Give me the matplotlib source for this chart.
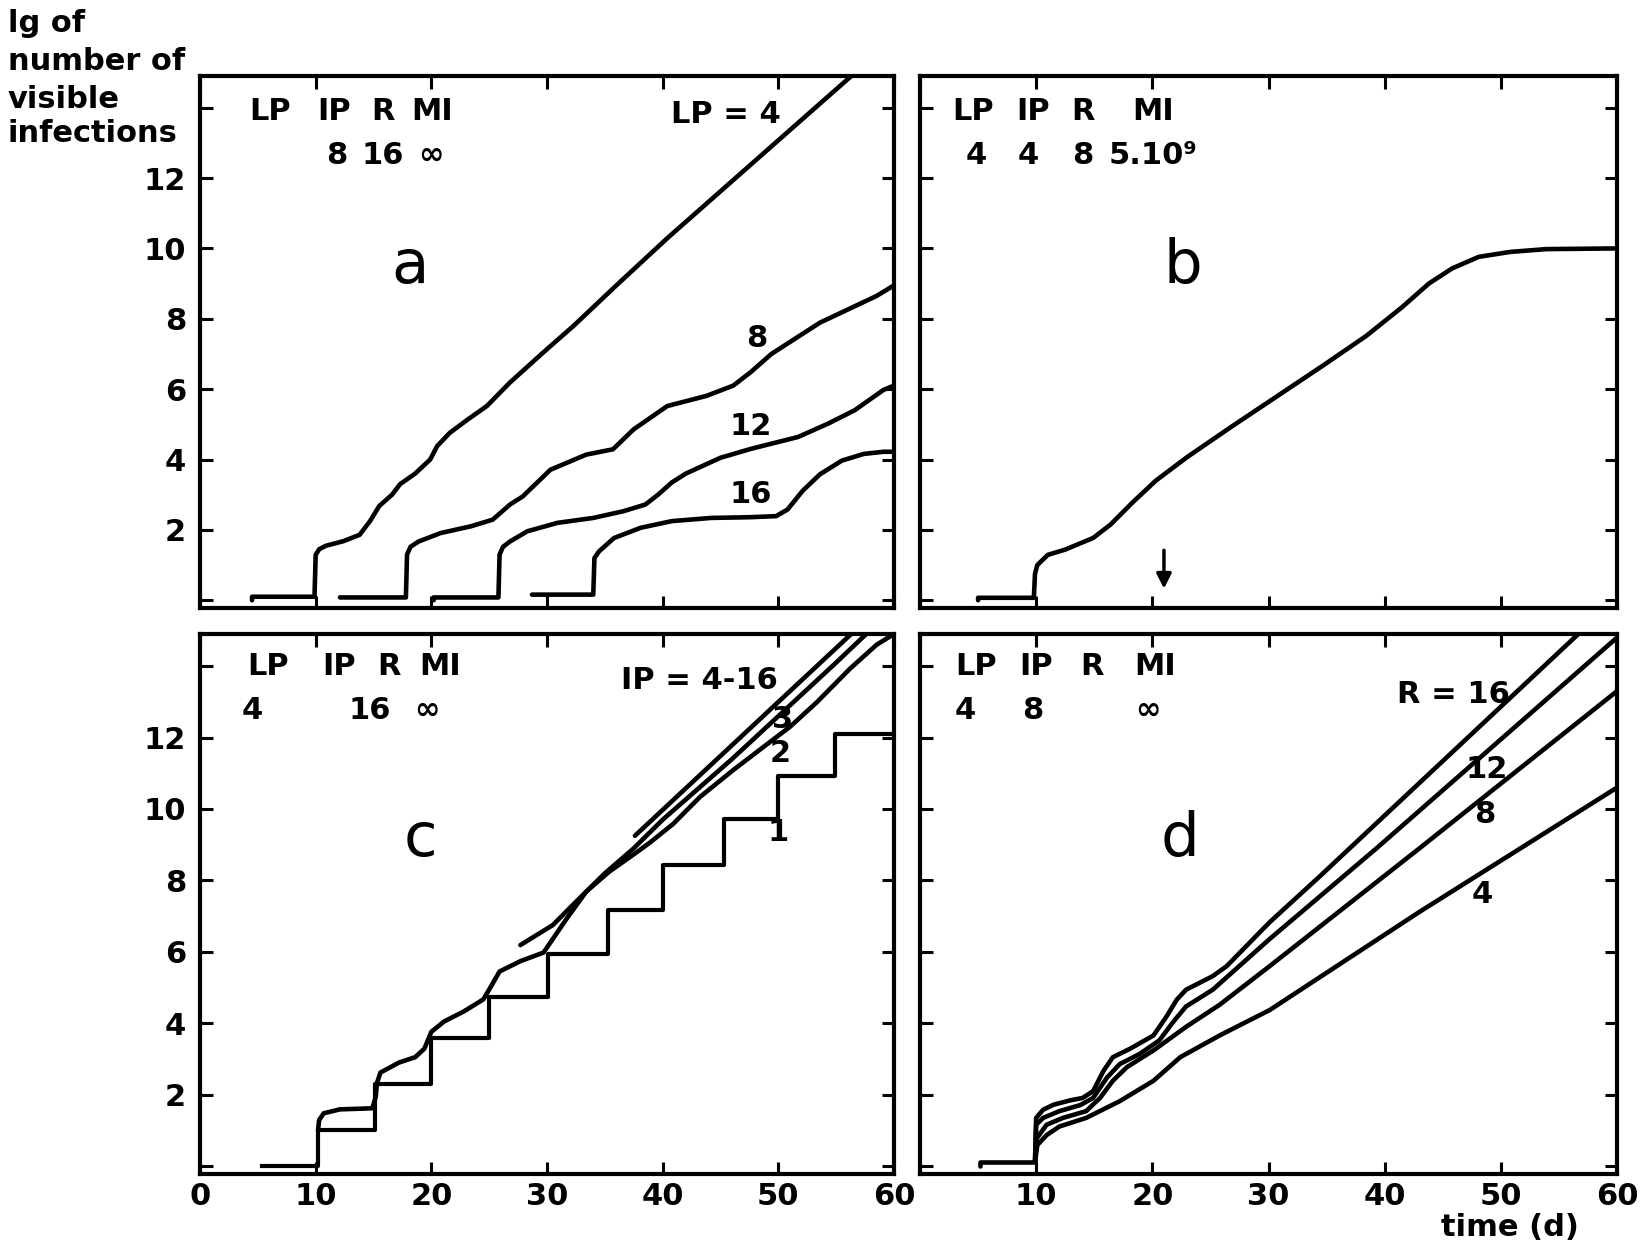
import matplotlib
matplotlib.use("Agg")
import matplotlib.pyplot as plt

# ---- panel a : latent period LP = 4, 8, 12, 16 ----
a_lp4_x = [4.5, 4.5, 9.9, 10.0, 10.3, 10.9, 12.4, 13.8, 14.7, 15.5, 16.6, 17.3, 18.6, 19.9, 20.5, 21.6,
           23.2, 24.8, 26.8, 29.7, 32.3, 36.0, 40.4, 47.3, 57.0]
a_lp4_y = [0.0, 0.1, 0.1, 1.29, 1.45, 1.55, 1.68, 1.86, 2.25, 2.68, 3.0, 3.3, 3.6, 4.0, 4.38, 4.76,
           5.15, 5.52, 6.19, 7.05, 7.8, 8.95, 10.29, 12.29, 15.1]
a_lp8_x = [12.1, 17.8, 17.9, 18.2, 18.9, 20.8, 23.4, 25.3, 26.8, 27.9, 30.3, 33.4, 35.7, 37.5, 40.4,
           43.8, 46.1, 47.6, 49.4, 53.6, 58.5, 60.0]
a_lp8_y = [0.08, 0.08, 1.3, 1.52, 1.67, 1.91, 2.1, 2.29, 2.72, 2.95, 3.71, 4.14, 4.29, 4.86, 5.52,
           5.81, 6.1, 6.48, 7.0, 7.89, 8.65, 8.95]
a_lp12_x = [20.2, 20.2, 25.8, 25.9, 26.2, 26.8, 28.3, 30.9, 34.0, 36.6, 38.5, 39.6, 40.8, 42.0, 43.2, 45.0,
            47.6, 49.4, 51.7, 54.3, 56.6, 59.1, 60.0]
a_lp12_y = [0.0, 0.08, 0.08, 1.3, 1.52, 1.67, 1.96, 2.2, 2.34, 2.53, 2.72, 3.0, 3.35, 3.6, 3.78, 4.05,
            4.3, 4.45, 4.64, 5.02, 5.4, 5.98, 6.1]
a_lp16_x = [28.7, 34.0, 34.1, 34.5, 35.8, 38.1, 40.8, 44.2, 47.5, 49.8, 50.8, 52.1, 53.6, 55.5, 57.4, 59.1, 60.0]
a_lp16_y = [0.16, 0.16, 1.2, 1.39, 1.77, 2.06, 2.25, 2.34, 2.36, 2.39, 2.58, 3.11, 3.58, 3.97, 4.16, 4.22, 4.22]

# ---- panel b : MI = 5.10^9 ----
b_x = [5.0, 5.0, 9.8, 9.9, 10.1, 11.0, 12.5, 14.9, 16.4, 18.3, 20.3, 23.0, 26.8, 30.7, 34.6, 38.4, 41.5,
       43.8, 45.8, 48.1, 50.8, 53.9, 60.0]
b_y = [0.0, 0.07, 0.07, 0.75, 1.0, 1.29, 1.44, 1.77, 2.15, 2.78, 3.4, 4.07, 4.93, 5.79, 6.65, 7.51, 8.33,
       9.0, 9.43, 9.76, 9.9, 9.98, 10.0]
b_arrow_x = 21.0

# ---- panel c : IP = 4-16 ----
c_step_x = [5.4, 10.2, 15.1, 20.0, 25.0, 30.1, 35.3, 40.0, 45.3, 50.0, 54.9, 60.0]
c_step_y = [0.0, 1.0, 2.29, 3.6, 4.75, 5.95, 7.18, 8.42, 9.72, 10.92, 12.1, 12.1]
c_2_x = [10.2, 10.3, 10.7, 12.1, 14.9, 15.2, 15.3, 15.6, 17.2, 18.6, 19.4, 20.0, 21.1, 22.8, 24.5, 25.1,
         25.9, 27.7, 29.7, 31.7, 33.4, 35.4, 37.5, 38.9, 40.9, 43.2, 46.1, 48.4, 51.0, 53.3, 56.2, 58.5, 60.0]
c_2_y = [1.0, 1.29, 1.48, 1.59, 1.62, 1.95, 2.33, 2.62, 2.9, 3.05, 3.29, 3.76, 4.05, 4.33, 4.67, 5.0,
         5.45, 5.74, 5.98, 6.93, 7.69, 8.25, 8.73, 9.06, 9.58, 10.33, 11.09, 11.66, 12.3, 12.98, 13.93, 14.6, 14.9]
c_3_x = [27.7, 29.0, 30.5, 32.5, 35.0, 37.5, 40.0, 43.0, 46.0, 49.0, 52.0, 55.0, 57.6]
c_3_y = [6.19, 6.45, 6.75, 7.4, 8.2, 8.9, 9.7, 10.55, 11.4, 12.3, 13.2, 14.1, 14.9]
c_top_x = [37.6, 56.3]
c_top_y = [9.25, 14.9]

# ---- panel d : R = 4, 8, 12, 16 ----
d_flat_x = [5.2, 5.2, 9.9]
d_flat_y = [0.0, 0.12, 0.12]
d_r16_x = [9.9, 10.0, 10.6, 11.5, 12.9, 14.0, 14.9, 15.8, 16.6, 18.1, 20.1, 21.2, 22.1, 22.9, 25.2, 26.4,
           30.1, 34.4, 57.0]
d_r16_y = [0.12, 1.35, 1.58, 1.72, 1.84, 1.91, 2.1, 2.67, 3.05, 3.29, 3.66, 4.18, 4.66, 4.94, 5.32, 5.6,
           6.83, 8.11, 15.0]
d_r12_x = [9.9, 10.0, 10.6, 12.0, 13.8, 14.9, 16.1, 17.2, 18.9, 20.6, 21.8, 22.9, 25.2, 30.1, 39.3, 60.0]
d_r12_y = [0.12, 1.16, 1.35, 1.54, 1.71, 1.91, 2.48, 2.86, 3.14, 3.52, 4.04, 4.47, 4.94, 6.36, 8.9, 14.8]
d_r8_x = [9.9, 10.05, 10.9, 12.3, 14.3, 15.5, 16.6, 17.8, 20.1, 22.9, 25.8, 30.1, 43.0, 60.0]
d_r8_y = [0.12, 0.78, 1.16, 1.35, 1.54, 1.91, 2.39, 2.77, 3.24, 3.9, 4.52, 5.6, 8.9, 13.3]
d_r4_x = [9.9, 10.1, 10.9, 12.0, 14.3, 17.2, 20.1, 22.4, 25.8, 30.1, 43.0, 60.0]
d_r4_y = [0.12, 0.59, 0.87, 1.11, 1.35, 1.82, 2.39, 3.05, 3.66, 4.37, 7.12, 10.6]

xticks = [0, 10, 20, 30, 40, 50, 60]
yticks = [0, 2, 4, 6, 8, 10, 12, 14]
ylabels = ['', '2', '4', '6', '8', '10', '12', '']

plt.rcParams['font.family'] = 'DejaVu Sans'
plt.rcParams['font.weight'] = 'bold'

W, H = 1649, 1249
fig = plt.figure(figsize=(W / 100, H / 100), dpi=100)

def box(l, t, r, b):
    return [l / W, 1 - b / H, (r - l) / W, (b - t) / H]

ax_a = fig.add_axes(box(200, 76, 894, 608))
ax_b = fig.add_axes(box(920, 76, 1617, 608))
ax_c = fig.add_axes(box(200, 634, 894, 1174))
ax_d = fig.add_axes(box(920, 634, 1617, 1174))

for ax in [ax_a, ax_b, ax_c, ax_d]:
    ax.set_xlim(0, 60)
    ax.set_ylim(-0.22, 14.9)
    ax.set_xticks(xticks)
    ax.set_yticks(yticks)
    ax.tick_params(direction='in', top=True, right=True, length=9, width=2.2,
                   labelsize=22)
    ax.tick_params(axis='x', pad=6)
    ax.tick_params(axis='y', pad=10)
    for s in ax.spines.values():
        s.set_linewidth(3)
    ax.set_xticklabels([])
    ax.set_yticklabels([])

ax_a.set_yticklabels(ylabels)
ax_c.set_yticklabels(ylabels)
ax_c.set_xticklabels([str(t) for t in xticks])
ax_d.set_xticklabels([''] + [str(t) for t in xticks[1:]])

lw = 3.3
style = dict(color='black', lw=lw, solid_capstyle='round', solid_joinstyle='round')

# panel a
for xs, ys in [(a_lp4_x, a_lp4_y), (a_lp8_x, a_lp8_y), (a_lp12_x, a_lp12_y), (a_lp16_x, a_lp16_y)]:
    ax_a.plot(xs, ys, **style)
ax_a.text(45.5, 13.8, 'LP = 4', fontsize=22, ha='center', va='center')
ax_a.text(48.1, 7.45, '8', fontsize=22, ha='center', va='center')
ax_a.text(47.6, 4.95, '12', fontsize=22, ha='center', va='center')
ax_a.text(47.6, 3.0, '16', fontsize=22, ha='center', va='center')

# panel b
ax_b.plot(b_x, b_y, **style)
ax_b.annotate('', xy=(b_arrow_x, 0.25), xytext=(b_arrow_x, 1.5),
              arrowprops=dict(arrowstyle='-|>', lw=2.5, color='black', mutation_scale=22))

# panel c
ax_c.plot(c_step_x, c_step_y, drawstyle='steps-post', color='black', lw=3.0)
ax_c.plot(c_2_x, c_2_y, **style)
ax_c.plot(c_3_x, c_3_y, **style)
ax_c.plot(c_top_x, c_top_y, **style)
ax_c.text(43.2, 13.6, 'IP = 4-16', fontsize=22, ha='center', va='center')
ax_c.text(50.4, 12.5, '3', fontsize=22, ha='center', va='center')
ax_c.text(50.2, 11.55, '2', fontsize=22, ha='center', va='center')
ax_c.text(50.0, 9.35, '1', fontsize=22, ha='center', va='center')

# panel d
ax_d.plot(d_flat_x, d_flat_y, **style)
for xs, ys in [(d_r16_x, d_r16_y), (d_r12_x, d_r12_y), (d_r8_x, d_r8_y), (d_r4_x, d_r4_y)]:
    ax_d.plot(xs, ys, **style)
ax_d.text(45.9, 13.2, 'R = 16', fontsize=22, ha='center', va='center')
ax_d.text(48.8, 11.1, '12', fontsize=22, ha='center', va='center')
ax_d.text(48.6, 9.85, '8', fontsize=22, ha='center', va='center')
ax_d.text(48.4, 7.6, '4', fontsize=22, ha='center', va='center')

# parameter headers
def header(ax, names, values, yn, yv):
    for txt, x in names:
        ax.text(x, yn, txt, fontsize=22, ha='center', va='center')
    for txt, x in values:
        ax.text(x, yv, txt, fontsize=22, ha='center', va='center')

header(ax_a, [('LP', 6.1), ('IP', 11.6), ('R', 15.8), ('MI', 20.1)],
       [('8', 11.8), ('16', 15.8), ('∞', 20.0)], 13.9, 12.65)
header(ax_b, [('LP', 4.6), ('IP', 9.7), ('R', 14.0), ('MI', 20.1)],
       [('4', 4.8), ('4', 9.3), ('8', 14.0), ('5.10⁹', 20.1)], 13.9, 12.65)
header(ax_c, [('LP', 5.9), ('IP', 12.0), ('R', 16.3), ('MI', 20.8)],
       [('4', 4.5), ('16', 14.7), ('∞', 19.6)], 14.0, 12.75)
header(ax_d, [('LP', 4.8), ('IP', 10.0), ('R', 14.8), ('MI', 20.2)],
       [('4', 3.9), ('8', 9.7), ('∞', 19.6)], 14.0, 12.75)

# panel letters
for ax, letter, x, y in [(ax_a, 'a', 18.2, 9.5), (ax_b, 'b', 22.6, 9.5),
                         (ax_c, 'c', 19.1, 9.15), (ax_d, 'd', 22.4, 9.15)]:
    ax.text(x, y, letter, fontsize=44, fontweight='normal', ha='center', va='center')

# axis titles
for txt, y in [('lg of', 23), ('number of', 61), ('visible', 99), ('infections', 134)]:
    fig.text(8 / W, 1 - y / H, txt, fontsize=22, ha='left', va='center')
fig.text(1510 / W, 1 - 1228 / H, 'time (d)', fontsize=22, ha='center', va='center')

fig.savefig('out.png', dpi=100)
